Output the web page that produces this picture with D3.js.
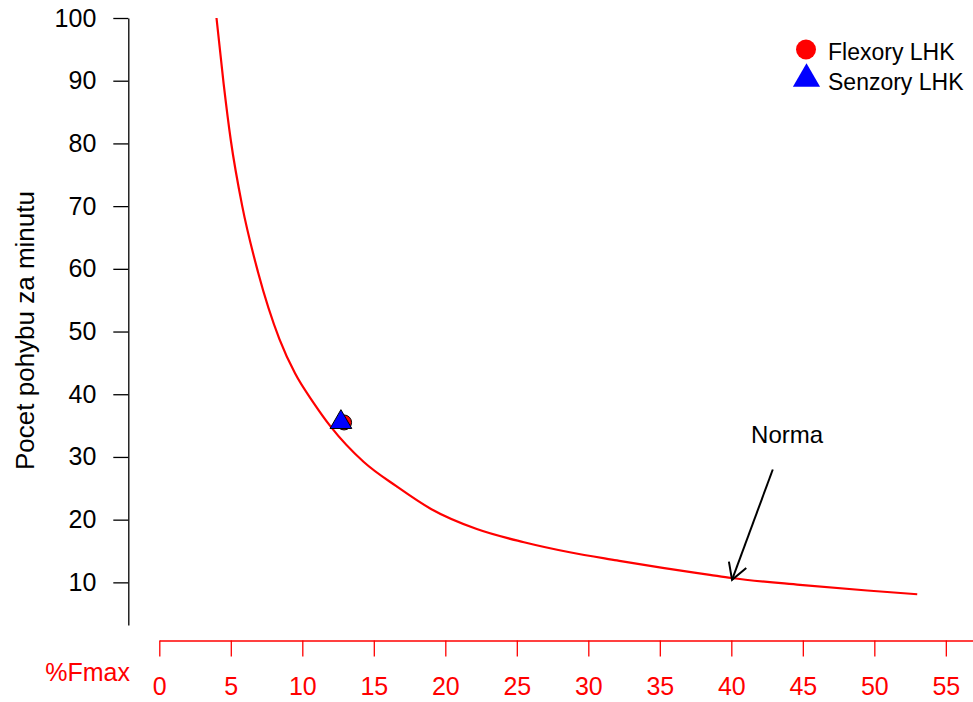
<!DOCTYPE html>
<html>
<head>
<meta charset="utf-8">
<script src="https://cdn.jsdelivr.net/npm/d3@7"></script>
<style>
  body { margin: 0; background: #fff; }
  text { font-family: "Liberation Sans", Arial, sans-serif; }
</style>
</head>
<body>
<div id="chart"></div>
<script>
// curve (%Fmax -> pocet pohybu za minutu)
const curveX = [4, 4.5, 5, 5.8, 6.9, 8.4, 9.5, 10.8, 12, 14.3, 16.6, 19, 22.2, 25.5, 28.7, 32, 35.2, 38.5, 40, 44.8, 49.5, 53];
const curveY = [100, 89.5, 80.5, 70, 59.5, 48.8, 43.3, 38.6, 34.8, 29.2, 25.3, 21.7, 18.5, 16.4, 14.8, 13.5, 12.3, 11.2, 10.7, 9.6, 8.7, 8.1];

const seriesNames = ["Flexory LHK", "Senzory LHK"];
const seriesX = [12.92, 12.7];
const seriesY = [35.5, 35.7];

const xTicks = [0, 5, 10, 15, 20, 25, 30, 35, 40, 45, 50, 55];
const yTicks = [10, 20, 30, 40, 50, 60, 70, 80, 90, 100];

const arrowFrom = [42.9, 28.0];
const arrowTo = [40.05, 10.4];
const noteText = "Norma";
const notePos = [43.9, 33.5];

const width = 973, height = 702;

function buildGraph() {
  var svg = d3.select("#chart").append("svg")
      .attr("width", width)
      .attr("height", height);

  // x axis runs on to the right edge, y axis a bit below the 10 tick
  var x = d3.scaleLinear().domain([0, 56.9]).range([159.3, 973]);
  var y = d3.scaleLinear().domain([3.2, 100]).range([625, 18]);

  var xAxis = svg.append("g")
      .attr("transform", "translate(0,640.5)")
      .call(d3.axisBottom(x).tickValues(xTicks).tickSize(16).tickSizeOuter(0).tickPadding(21));
  xAxis.selectAll("path, line").attr("stroke", "red").attr("stroke-width", 1.3);
  xAxis.selectAll("text").attr("fill", "red").style("font-size", "25px")
      .style("font-family", "'Liberation Sans', Arial, sans-serif");

  var yAxis = svg.append("g")
      .attr("transform", "translate(128.3,0)")
      .call(d3.axisLeft(y).tickValues(yTicks).tickSize(15).tickSizeOuter(0).tickPadding(17));
  yAxis.selectAll("path, line").attr("stroke", "#000").attr("stroke-width", 1.3);
  yAxis.selectAll("text").attr("fill", "#000").style("font-size", "25px")
      .style("font-family", "'Liberation Sans', Arial, sans-serif");

  svg.append("text")
      .attr("x", 130).attr("y", 672.7).attr("dy", "0.35em")
      .attr("text-anchor", "end")
      .attr("fill", "red")
      .style("font-size", "25px")
      .text("%Fmax");

  svg.append("text")
      .attr("transform", "translate(25,330.5) rotate(-90)")
      .attr("dy", "0.35em")
      .attr("text-anchor", "middle")
      .style("font-size", "26px")
      .text("Pocet pohybu za minutu");

  var pts = curveX.map((d, i) => [d, curveY[i]]);
  var line = d3.line()
      .x(d => x(d[0]))
      .y(d => y(d[1]))
      .curve(d3.curveMonotoneX);

  svg.append("path")
      .datum(pts)
      .attr("d", line)
      .attr("fill", "none")
      .attr("stroke", "red")
      .attr("stroke-width", 2.2);

  // measured points: circle first, triangle drawn over it
  svg.append("circle")
      .attr("cx", x(seriesX[0]))
      .attr("cy", y(seriesY[0]))
      .attr("r", 7.5)
      .attr("fill", "red")
      .attr("stroke", "#000")
      .attr("stroke-width", 1);

  svg.append("path")
      .attr("d", d3.symbol().type(d3.symbolTriangle).size(205)())
      .attr("transform", "translate(" + x(seriesX[1]) + "," + (y(seriesY[1]) + 1) + ")")
      .attr("fill", "blue")
      .attr("stroke", "#000")
      .attr("stroke-width", 1);

  // arrow to the norm
  var x0 = x(arrowFrom[0]), y0 = y(arrowFrom[1]);
  var x1 = x(arrowTo[0]), y1 = y(arrowTo[1]);
  var ang = Math.atan2(y1 - y0, x1 - x0);
  var len = 18.5, spread = Math.PI / 6;
  svg.append("line")
      .attr("x1", x0).attr("y1", y0).attr("x2", x1).attr("y2", y1)
      .attr("stroke", "#000").attr("stroke-width", 2);
  svg.append("path")
      .attr("d", "M" + (x1 - len * Math.cos(ang - spread)) + "," + (y1 - len * Math.sin(ang - spread)) +
                 "L" + x1 + "," + y1 +
                 "L" + (x1 - len * Math.cos(ang + spread)) + "," + (y1 - len * Math.sin(ang + spread)))
      .attr("fill", "none")
      .attr("stroke", "#000").attr("stroke-width", 2);

  svg.append("text")
      .attr("x", x(notePos[0])).attr("y", y(notePos[1])).attr("dy", "0.35em")
      .attr("text-anchor", "middle")
      .style("font-size", "24px")
      .text(noteText);

  // legend
  var legend = svg.append("g").attr("transform", "translate(806,0)");
  legend.append("circle")
      .attr("cx", 0).attr("cy", 49.5).attr("r", 10)
      .attr("fill", "red");
  legend.append("path")
      .attr("d", d3.symbol().type(d3.symbolTriangle).size(320)())
      .attr("transform", "translate(0.5,79)")
      .attr("fill", "blue");
  legend.selectAll(".lab")
      .data(seriesNames)
      .enter().append("text")
      .attr("class", "lab")
      .attr("x", 22)
      .attr("y", (d, i) => 51.5 + i * 30)
      .attr("dy", "0.35em")
      .style("font-size", "23px")
      .text(d => d);
}

buildGraph();
</script>
</body>
</html>
